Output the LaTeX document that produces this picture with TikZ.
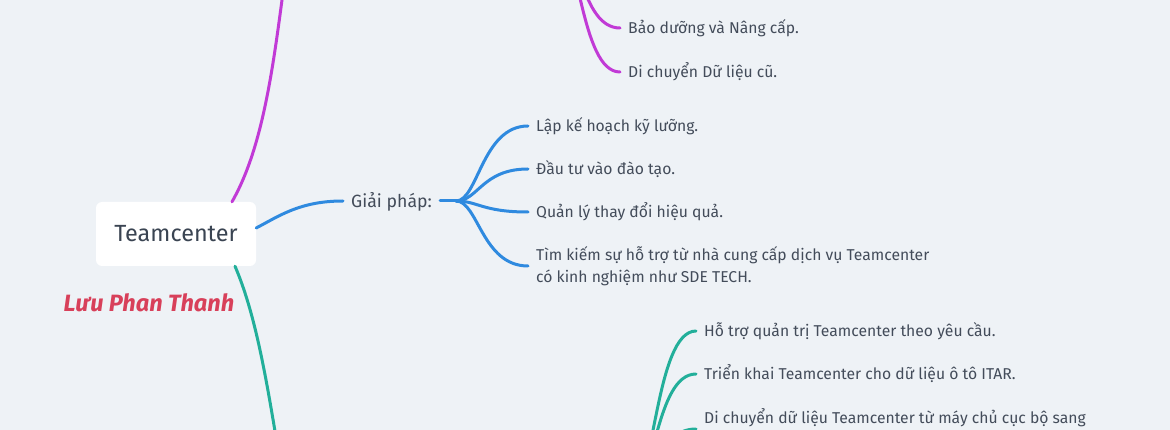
\documentclass[tikz,border=0pt]{standalone}
\usepackage{fontspec}
\setmainfont{Fira Sans}
\definecolor{bgc}{HTML}{EEF2F6}
\definecolor{txtc}{HTML}{434C5A}
\definecolor{rootc}{HTML}{3A4452}
\definecolor{purp}{HTML}{C13AD6}
\definecolor{blu}{HTML}{2F8ADF}
\definecolor{tea}{HTML}{22AF9A}
\definecolor{redc}{HTML}{D8405A}
\tikzset{
  leaf/.style={font=\fontsize{15.7}{22}\selectfont, text=txtc, anchor=west,
    inner xsep=8pt, inner ysep=0pt, text height=14.8pt, text depth=3.8pt},
  leafmulti/.style={font=\fontsize{15.7}{22}\selectfont, text=txtc, anchor=west,
    inner xsep=8pt, inner ysep=0pt, align=left},
  conn/.style={line width=3pt, line cap=round},
}
\begin{document}
\begin{tikzpicture}[x=1pt,y=-1pt]
\useasboundingbox (0,0) rectangle (1170,430);
\clip (0,0) rectangle (1170,430);
\fill[bgc] (0,0) rectangle (1170,430);

% off-canvas parent points
\coordinate (plabel) at (290,-60);
\coordinate (phub) at (555,-60);
\coordinate (tlabel) at (290,520);
\coordinate (thub) at (630,490);

% root
\node[fill=white, rounded corners=6pt, minimum width=160pt, minimum height=64pt,
  inner sep=0pt, text=rootc, font=\fontsize{23.4}{28}\selectfont,
  text height=16pt, text depth=0pt] (root) at (176,234) {Teamcenter};

\node[text=redc, font=\fontsize{23.6}{28}\selectfont\bfseries\itshape,
  inner sep=0pt, text height=16pt, text depth=0pt] (author) at (149,304) {Lưu Phan Thanh};

% purple
\draw[conn, purp] ([xshift=56pt]root.north) .. controls +(36,-63) and +(-14,100) .. (plabel);
\node[leaf] (p1) at (620,28) {Bảo dưỡng và Nâng cấp.};
\node[leaf] (p2) at (620,72) {Di chuyển Dữ liệu cũ.};
\draw[conn, purp] (phub) .. controls +(25,0) and +(-40,0) .. (p1.west);
\draw[conn, purp] (phub) .. controls +(25,0) and +(-40,0) .. (p2.west);

% blue
\node[font=\fontsize{17.7}{22}\selectfont, text=txtc, anchor=west, inner xsep=8pt,
  inner ysep=0pt, text height=16.6pt, text depth=4.4pt] (gp) at (343,201) {Giải pháp:};
\draw[conn, blu] ([yshift=6pt]root.east) .. controls +(23,-12) and +(-43,0) .. (gp.west);
\coordinate (bhub) at (456,201);
\draw[conn, blu] (gp.east) -- (bhub);
\node[leaf] (b1) at (528,126) {Lập kế hoạch kỹ lưỡng.};
\node[leaf] (b2) at (528,169) {Đầu tư vào đào tạo.};
\node[leaf] (b3) at (528,212) {Quản lý thay đổi hiệu quả.};
\node[leafmulti] (b4) at (528,266) {Tìm kiếm sự hỗ trợ từ nhà cung cấp dịch vụ Teamcenter\\có kinh nghiệm như SDE TECH.};
\foreach \c in {b1,b2,b3,b4}
  \draw[conn, blu] (bhub) .. controls +(22,0) and +(-46,0) .. (\c.west);

% teal
\draw[conn, tea] ([xshift=59pt]root.south) .. controls +(27,63) and +(-18,-100) .. (tlabel);
\node[leaf] (t1) at (696,331) {Hỗ trợ quản trị Teamcenter theo yêu cầu.};
\node[leaf] (t2) at (696,374) {Triển khai Teamcenter cho dữ liệu ô tô ITAR.};
\node[leaf] (t3) at (696,418) {Di chuyển dữ liệu Teamcenter từ máy chủ cục bộ sang};
\coordinate (t3end) at (696,429);
\draw[conn, tea] (thub) .. controls +(25,0) and +(-41,0) .. (t1.west);
\draw[conn, tea] (thub) .. controls +(25,0) and +(-41,0) .. (t2.west);
\draw[conn, tea] (thub) .. controls +(25,0) and +(-41,0) .. (t3end);
\end{tikzpicture}
\end{document}
